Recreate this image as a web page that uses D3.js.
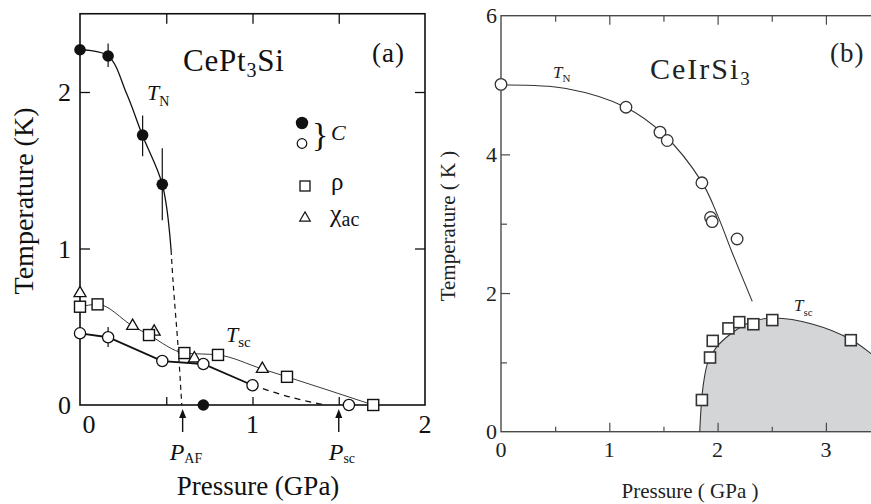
<!DOCTYPE html>
<html><head><meta charset="utf-8">
<script src="https://cdn.jsdelivr.net/npm/d3@7"></script>
<style>
body{margin:0;background:#fff}
</style>
</head><body>
<svg id="c" width="871" height="504" font-family="'Liberation Serif', 'Times New Roman', Tinos, 'DejaVu Serif', serif"></svg>
<script>
// ---------- Panel (a): CePt3Si ----------
const aXTicks = [0.5, 1, 1.5];
const aXLabels = [0, 1, 2];
const aYTicks = [1, 2];
const aYLabels = [0, 1, 2];
// T_N from specific heat (filled circles): [P, T]
const aTN = [[0,2.27],[0.163,2.23],[0.363,1.725],[0.477,1.41]];
const aTNzero = [[0.715,0]];
const aTNerr = [[0.163,2.16,2.31],[0.363,1.59,1.85],[0.477,1.18,1.64]];
// T_sc from specific heat (open circles)
const aC = [[0,0.458],[0.163,0.433],[0.477,0.281],[0.715,0.262],[1.0,0.126],[1.559,0]];
const aCerr = [[0.163,0.371,0.498]];
// rho (squares)
const aRho = [[0,0.628],[0.102,0.643],[0.4,0.447],[0.605,0.332],[0.80,0.32],[1.2,0.18],[1.70,0]];
// chi_ac (triangles)
const aChi = [[0,0.714],[0.305,0.505],[0.43,0.468],[0.663,0.298],[1.057,0.23]];
// guide lines
const aTNfit = [[0,2.27],[0.163,2.23],[0.27,1.99],[0.363,1.72],[0.477,1.41],[0.528,0.99]];
const aTNdash = [[0.528,0.99],[0.54,0.78],[0.57,0.35],[0.59,0.0]];
const aCfit = [[0,0.458],[0.163,0.433],[0.477,0.281],[0.715,0.262],[1.0,0.126]];
const aCdash = [[1.0,0.126],[1.22,0.05],[1.42,0]];
const aRhoFit = [[0,0.628],[0.102,0.643],[0.305,0.505],[0.4,0.447],[0.605,0.332],[0.80,0.32],[1.057,0.23],[1.2,0.18],[1.70,0]];
const aPAF = 0.595, aPsc = 1.50;

// ---------- Panel (b): CeIrSi3 ----------
const bXMajor = [1, 2, 3];
const bXMinor = [0.5, 1.5, 2.5];
const bXLabels = [0, 1, 2, 3];
const bYMajor = [2, 4];
const bYMinor = [1, 3, 5];
const bYLabels = [0, 2, 4, 6];
const bTN = [[0,5.01],[1.154,4.68],[1.468,4.32],[1.535,4.2],[1.855,3.59],[1.935,3.09],[1.95,3.03],[2.18,2.78]];
const bSC = [[1.855,0.457],[1.93,1.07],[1.955,1.31],[2.10,1.49],[2.2,1.58],[2.33,1.55],[2.505,1.61],[3.23,1.32]];
const bTNfit = [[0,5.0],[0.6,4.95],[1.15,4.68],[1.5,4.29],[1.855,3.6],[2.0,3.12],[2.13,2.6],[2.32,1.88]];
const bSCfit = [[1.835,0],[1.85,0.4],[1.87,0.7],[1.91,1.0],[1.99,1.22],[2.12,1.41],[2.3,1.58],[2.52,1.64],[2.88,1.55],[3.23,1.33],[3.5,1.02]];

const svg = d3.select("#c");

// ================= Panel A =================
const xA = d3.scaleLinear([0,2],[80,425]);
const yA = d3.scaleLinear([0,2.5],[405,13.75]);
const gA = svg.append("g");
const lineA = d3.line().x(d=>xA(d[0])).y(d=>yA(d[1]));

gA.append("rect").attr("x",xA(0)).attr("y",yA(2.5)).attr("width",xA(2)-xA(0)).attr("height",yA(0)-yA(2.5))
  .attr("fill","none").attr("stroke","#111").attr("stroke-width",1.6);
function tkA(g){ g.select(".domain").remove(); g.selectAll("line").attr("stroke","#111").attr("stroke-width",1.3); }
gA.append("g").attr("transform",`translate(0,${yA(0)})`)
  .call(d3.axisBottom(xA).tickValues(aXTicks).tickSize(-8).tickFormat("")).call(tkA);
gA.append("g").attr("transform",`translate(0,${yA(2.5)})`)
  .call(d3.axisTop(xA).tickValues(aXTicks).tickSize(-10).tickFormat("")).call(tkA);
gA.append("g").attr("transform",`translate(${xA(0)},0)`)
  .call(d3.axisLeft(yA).tickValues(aYTicks).tickSize(-10).tickFormat("")).call(tkA);
gA.append("g").attr("transform",`translate(${xA(2)},0)`)
  .call(d3.axisRight(yA).tickValues(aYTicks).tickSize(-10).tickFormat("")).call(tkA);

gA.selectAll(".xl").data(aXLabels).enter().append("text")
  .attr("x",d=>xA(d)+(d===0?9:0)).attr("y",433).attr("text-anchor","middle")
  .attr("font-size",26).attr("fill","#111").text(d=>d);
gA.selectAll(".yl").data(aYLabels).enter().append("text")
  .attr("x",71).attr("y",d=>yA(d)+9).attr("text-anchor","end")
  .attr("font-size",26).attr("fill","#111").text(d=>d);

gA.append("path").datum(aTNfit).attr("d",lineA.curve(d3.curveCatmullRom.alpha(0.5)))
  .attr("fill","none").attr("stroke","#111").attr("stroke-width",1.3);
gA.append("path").datum(aTNdash).attr("d",lineA.curve(d3.curveCatmullRom.alpha(0.5)))
  .attr("fill","none").attr("stroke","#111").attr("stroke-width",1.2).attr("stroke-dasharray","5,4");
gA.append("path").datum(aRhoFit).attr("d",lineA.curve(d3.curveMonotoneX))
  .attr("fill","none").attr("stroke","#222").attr("stroke-width",0.9);
gA.append("path").datum(aCfit).attr("d",lineA.curve(d3.curveLinear))
  .attr("fill","none").attr("stroke","#111").attr("stroke-width",1.8);
gA.append("path").datum(aCdash).attr("d",lineA.curve(d3.curveCatmullRom.alpha(0.5)))
  .attr("fill","none").attr("stroke","#111").attr("stroke-width",1.3).attr("stroke-dasharray","6,5");

gA.selectAll(".eb").data(aTNerr.concat(aCerr)).enter().append("line")
  .attr("x1",d=>xA(d[0])).attr("x2",d=>xA(d[0])).attr("y1",d=>yA(d[1])).attr("y2",d=>yA(d[2]))
  .attr("stroke","#111").attr("stroke-width",1.2);

const tri = d3.symbol(d3.symbolTriangle).size(62);
gA.selectAll(".tri").data(aChi).enter().append("path").attr("d",tri)
  .attr("transform",d=>`translate(${xA(d[0])},${yA(d[1])})`)
  .attr("fill","#fff").attr("stroke","#111").attr("stroke-width",1.3);
gA.selectAll(".sq").data(aRho).enter().append("rect")
  .attr("x",d=>xA(d[0])-5.5).attr("y",d=>yA(d[1])-5.5).attr("width",11).attr("height",11)
  .attr("fill","#fff").attr("stroke","#111").attr("stroke-width",1.4);
gA.selectAll(".oc").data(aC).enter().append("circle")
  .attr("cx",d=>xA(d[0])).attr("cy",d=>yA(d[1])).attr("r",5.6)
  .attr("fill","#fff").attr("stroke","#111").attr("stroke-width",1.3);
gA.selectAll(".fc").data(aTN.concat(aTNzero)).enter().append("circle")
  .attr("cx",d=>xA(d[0])).attr("cy",d=>yA(d[1])).attr("r",5.8).attr("fill","#111");

[aPAF, aPsc].forEach(p=>{
  gA.append("line").attr("x1",xA(p)).attr("x2",xA(p)).attr("y1",432).attr("y2",414)
    .attr("stroke","#111").attr("stroke-width",1.4);
  gA.append("path").attr("d",`M${xA(p)-3.5},${418} L${xA(p)},${409} L${xA(p)+3.5},${418} Z`).attr("fill","#111");
});
const pAF = gA.append("text").attr("x",xA(aPAF)-13).attr("y",460).attr("font-size",24).attr("fill","#111");
pAF.append("tspan").attr("font-style","italic").text("P");
pAF.append("tspan").attr("font-size",14).attr("dy",3).text("AF");
const pSC = gA.append("text").attr("x",xA(aPsc)-10).attr("y",460).attr("font-size",24).attr("fill","#111");
pSC.append("tspan").attr("font-style","italic").text("P");
pSC.append("tspan").attr("font-size",14).attr("dy",3).text("sc");

const cpt = gA.append("text").attr("x",183).attr("y",71).attr("font-size",31).attr("letter-spacing",0.8).attr("fill","#111");
cpt.append("tspan").text("CePt");
cpt.append("tspan").attr("font-size",20).attr("dy",6).text("3");
cpt.append("tspan").attr("dy",-6).text("Si");
gA.append("text").attr("x",372).attr("y",62).attr("font-size",27).attr("letter-spacing",1).attr("fill","#111").text("(a)");
const tnA = gA.append("text").attr("x",147).attr("y",100).attr("font-size",22).attr("fill","#111");
tnA.append("tspan").attr("font-style","italic").text("T");
tnA.append("tspan").attr("font-size",14).attr("dy",6).text("N");
const tscA = gA.append("text").attr("x",226).attr("y",342).attr("font-size",22).attr("fill","#111");
tscA.append("tspan").attr("font-style","italic").text("T");
tscA.append("tspan").attr("font-size",15).attr("dy",5).text("sc");

gA.append("circle").attr("cx",302).attr("cy",123).attr("r",6.2).attr("fill","#111");
gA.append("circle").attr("cx",302).attr("cy",143.5).attr("r",4.8).attr("fill","#fff").attr("stroke","#111").attr("stroke-width",1.2);
gA.append("text").attr("x",312).attr("y",146).attr("font-size",34).attr("fill","#111").text("}");
gA.append("text").attr("x",331).attr("y",140).attr("font-size",22).attr("font-style","italic").attr("fill","#111").text("C");
gA.append("rect").attr("x",300).attr("y",181).attr("width",10).attr("height",10)
  .attr("fill","#fff").attr("stroke","#111").attr("stroke-width",1.3);
gA.append("text").attr("x",331).attr("y",190).attr("font-size",25).attr("fill","#111").text("ρ");
gA.append("path").attr("d",d3.symbol(d3.symbolTriangle).size(48)).attr("transform","translate(305,218)")
  .attr("fill","#fff").attr("stroke","#111").attr("stroke-width",1.2);
const chi = gA.append("text").attr("x",330).attr("y",222).attr("font-size",26).attr("fill","#111");
chi.append("tspan").text("χ");
chi.append("tspan").attr("font-size",20).attr("dy",4).text("ac");

gA.append("text").attr("x",258).attr("y",495).attr("text-anchor","middle").attr("font-size",27).attr("fill","#111")
  .text("Pressure (GPa)");
gA.append("text").attr("transform","translate(33,201) rotate(-90)").attr("text-anchor","middle")
  .attr("font-size",28).attr("fill","#111").text("Temperature (K)");

// ================= Panel B =================
const xB = d3.scaleLinear([0,4],[501,501+4*108.3]);
const yB = d3.scaleLinear([0,6],[431.7,15.7]);
const gB = svg.append("g");
const lineB = d3.line().x(d=>xB(d[0])).y(d=>yB(d[1]));
const axCol = "#4a4a4a";

const areaB = d3.area().x(d=>xB(d[0])).y0(yB(0)).y1(d=>yB(d[1])).curve(d3.curveCatmullRom.alpha(0.5));
gB.append("path").datum(bSCfit).attr("d",areaB).attr("fill","#d4d5d7");

gB.append("rect").attr("x",xB(0)).attr("y",yB(6)).attr("width",xB(4)-xB(0)).attr("height",yB(0)-yB(6))
  .attr("fill","none").attr("stroke",axCol).attr("stroke-width",1.4);
function tk(sel){ sel.select(".domain").remove(); sel.selectAll("line").attr("stroke",axCol).attr("stroke-width",1.2); }
gB.append("g").attr("transform",`translate(0,${yB(0)})`).call(d3.axisBottom(xB).tickValues(bXMajor).tickSize(-9).tickFormat("")).call(tk);
gB.append("g").attr("transform",`translate(0,${yB(0)})`).call(d3.axisBottom(xB).tickValues(bXMinor).tickSize(-5).tickFormat("")).call(tk);
gB.append("g").attr("transform",`translate(0,${yB(6)})`).call(d3.axisTop(xB).tickValues(bXMajor).tickSize(-9).tickFormat("")).call(tk);
gB.append("g").attr("transform",`translate(0,${yB(6)})`).call(d3.axisTop(xB).tickValues(bXMinor).tickSize(-6).tickFormat("")).call(tk);
gB.append("g").attr("transform",`translate(${xB(0)},0)`).call(d3.axisLeft(yB).tickValues(bYMajor).tickSize(-9).tickFormat("")).call(tk);
gB.append("g").attr("transform",`translate(${xB(0)},0)`).call(d3.axisLeft(yB).tickValues(bYMinor).tickSize(-6).tickFormat("")).call(tk);

gB.selectAll(".xl").data(bXLabels).enter().append("text")
  .attr("x",d=>xB(d)).attr("y",457).attr("text-anchor","middle").attr("font-size",22).attr("fill","#222").text(d=>d);
gB.selectAll(".yl").data(bYLabels).enter().append("text")
  .attr("x",497).attr("y",d=>yB(d)+7.5).attr("text-anchor","end").attr("font-size",22).attr("fill","#222").text(d=>d);

gB.append("path").datum(bTNfit).attr("d",lineB.curve(d3.curveCatmullRom.alpha(0.5)))
  .attr("fill","none").attr("stroke","#333").attr("stroke-width",1.1);
gB.append("path").datum(bSCfit).attr("d",lineB.curve(d3.curveCatmullRom.alpha(0.5)))
  .attr("fill","none").attr("stroke","#333").attr("stroke-width",1.1);

gB.selectAll(".oc").data(bTN).enter().append("circle")
  .attr("cx",d=>xB(d[0])).attr("cy",d=>yB(d[1])).attr("r",5.8)
  .attr("fill","#fff").attr("stroke","#333").attr("stroke-width",1.3);
gB.selectAll(".sq").data(bSC).enter().append("rect")
  .attr("x",d=>xB(d[0])-5.5).attr("y",d=>yB(d[1])-5.5).attr("width",11).attr("height",11)
  .attr("fill","#fff").attr("stroke","#333").attr("stroke-width",1.6);

const tnB = gB.append("text").attr("x",553).attr("y",78).attr("font-size",17).attr("fill","#222");
tnB.append("tspan").attr("font-style","italic").text("T");
tnB.append("tspan").attr("font-size",11).attr("dy",4).text("N");
const tscB = gB.append("text").attr("x",794).attr("y",311).attr("font-size",17).attr("fill","#222");
tscB.append("tspan").attr("font-style","italic").text("T");
tscB.append("tspan").attr("font-size",11).attr("dy",5).text("sc");
const cis = gB.append("text").attr("x",650).attr("y",79).attr("font-size",30).attr("letter-spacing",2).attr("fill","#222");
cis.append("tspan").text("CeIrSi");
cis.append("tspan").attr("font-size",19).attr("dy",6).text("3");
gB.append("text").attr("x",830).attr("y",62).attr("font-size",27).attr("letter-spacing",1).attr("fill","#222").text("(b)");
gB.append("text").attr("x",690).attr("y",498).attr("text-anchor","middle").attr("font-size",21).attr("fill","#222")
  .text("Pressure ( GPa )");
gB.append("text").attr("transform","translate(455,226) rotate(-90)").attr("text-anchor","middle")
  .attr("font-size",21).attr("fill","#222").text("Temperature ( K )");
</script>
</body></html>
